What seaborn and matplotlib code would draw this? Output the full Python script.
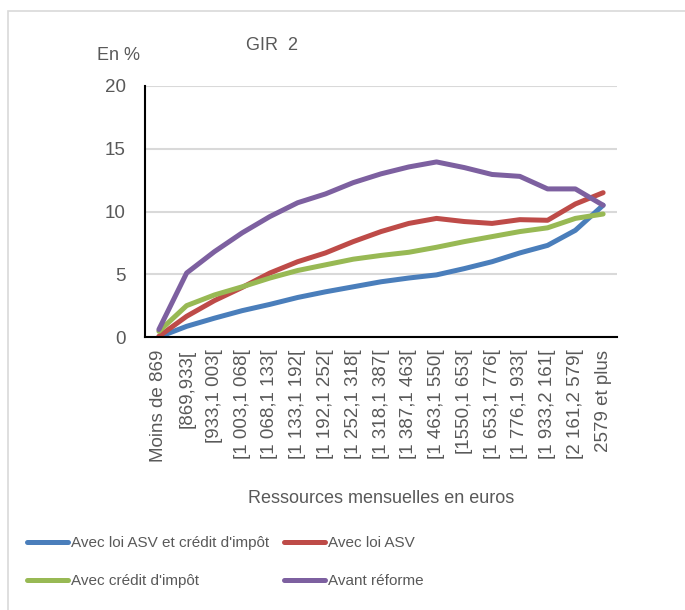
import matplotlib
matplotlib.use("Agg")
import matplotlib.pyplot as plt
import seaborn as sns
import pandas as pd
from matplotlib.patches import Rectangle

categories = ["Moins de 869", "[869,933[", "[933,1 003[", "[1 003,1 068[", "[1 068,1 133[",
              "[1 133,1 192[", "[1 192,1 252[", "[1 252,1 318[", "[1 318,1 387[",
              "[1 387,1 463[", "[1 463,1 550[", "[1550,1 653[", "[1 653,1 776[",
              "[1 776,1 933[", "[1 933,2 161[", "[2 161,2 579[", "2579 et plus"]

asv_credit = [0.0, 0.85, 1.5, 2.1, 2.6, 3.15, 3.6, 4.0, 4.4, 4.7, 4.95, 5.45, 6.0, 6.7, 7.3, 8.5, 10.5]
asv = [0.05, 1.65, 2.9, 3.95, 5.1, 6.0, 6.7, 7.6, 8.4, 9.05, 9.45, 9.2, 9.05, 9.35, 9.3, 10.6, 11.5]
credit = [0.45, 2.5, 3.35, 4.0, 4.7, 5.3, 5.75, 6.2, 6.5, 6.75, 7.15, 7.6, 8.0, 8.4, 8.7, 9.45, 9.8]
avant = [0.6, 5.1, 6.8, 8.3, 9.6, 10.7, 11.4, 12.3, 13.0, 13.55, 13.95, 13.5, 12.95, 12.8, 11.8, 11.8, 10.5]

series_names = ["Avec loi ASV et crédit d'impôt", "Avec loi ASV", "Avec crédit d'impôt", "Avant réforme"]
colors = ["#4A7EBB", "#BE4B48", "#98B954", "#7D60A0"]

rows = []
for name, vals in zip(series_names, [asv_credit, asv, credit, avant]):
    for c, v in zip(categories, vals):
        rows.append({"cat": c, "val": v, "serie": name})
df = pd.DataFrame(rows)

sns.set_style("white")
plt.rcParams["font.family"] = ["Liberation Sans", "DejaVu Sans"]
TXT = "#595959"

fig = plt.figure(figsize=(6.85, 6.10), dpi=100)
ax = fig.add_axes([145/685, 1-337/610, (617-145)/685, (337-86)/610])

sns.lineplot(data=df, x="cat", y="val", hue="serie", hue_order=series_names,
             palette=colors, linewidth=3.6, ax=ax, sort=False, legend=True)

ax.set_ylim(0, 20)
ax.set_xlim(-0.5, len(categories) - 0.5)
ax.set_yticks([0, 5, 10, 15, 20])
ax.yaxis.grid(True, color="#D9D9D9", linewidth=1.5)
ax.set_axisbelow(True)
for s in ["top", "right"]:
    ax.spines[s].set_visible(False)
for s in ["left", "bottom"]:
    ax.spines[s].set_color("black")
    ax.spines[s].set_linewidth(1.5)
ax.tick_params(axis="both", length=0, labelsize=13.5, labelcolor=TXT)
ax.tick_params(axis="y", pad=14)
ax.tick_params(axis="x", pad=9)
ax.set_xticks(range(len(categories)))
ax.set_xticklabels(categories, rotation=90)
ax.set_xlabel("Ressources mensuelles en euros", fontsize=13, color=TXT, labelpad=20)
ax.set_ylabel("")

fig.text(272/685, 1-45/610, "GIR  2", ha="center", va="center", fontsize=13, color=TXT)
fig.text(97/685, 1-55/610, "En %", ha="left", va="center", fontsize=13, color=TXT)

handles, labels = ax.get_legend_handles_labels()
ax.legend_.remove()
hmap = dict(zip(labels, handles))
common = dict(loc="upper left", frameon=False, fontsize=11, handlelength=2.7,
              handletextpad=0.2, labelspacing=1.6, borderpad=0, borderaxespad=0,
              labelcolor=TXT)
leg1 = fig.legend([hmap[series_names[0]], hmap[series_names[2]]],
                  [series_names[0], series_names[2]],
                  bbox_to_anchor=(27/685, 1-536/610), **common)
leg2 = fig.legend([hmap[series_names[1]], hmap[series_names[3]]],
                  [series_names[1], series_names[3]],
                  bbox_to_anchor=(284/685, 1-536/610), **common)
for lg in (leg1, leg2):
    for h in lg.get_lines():
        h.set_linewidth(3.6)

fig.patches.append(Rectangle((8/685, -0.1), 1.1, 1 - 11/610 + 0.1, transform=fig.transFigure,
                             fill=False, edgecolor="#D9D9D9", linewidth=1.2))

fig.savefig("out.png", dpi=100, facecolor="white")
